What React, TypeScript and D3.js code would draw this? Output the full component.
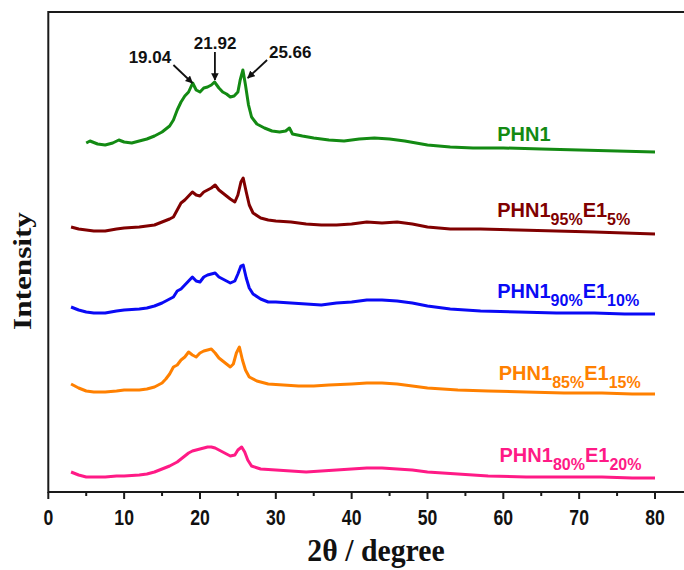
import React from "react";
import * as d3 from "d3";

const W = 684;
const H = 570;

// 2θ positions (degree) and stacked intensities (a.u.)
const greenX = [5.0,5.5,6.5,7.5,8.5,9.3,10,11,12,13,14,15,16,16.5,17,17.5,18,18.5,19.04,19.5,20,20.5,21,21.5,21.92,22.5,23,23.5,24,24.5,25,25.3,25.66,26,26.4,26.8,27.5,28.5,29.5,30.5,31.3,31.8,32.2,33.5,35,37,39,41,43,45,47,50,53,56,60,65,70,75,80];
const greenY = [349,351,348,347,349,352,350,349,351,353,356,360,366,372,382,390,396,400,409,402,400,404,405,407,410,404,400,398,395,396,400,412,422,407,387,375,368,364,361,360,361,364,358,356,354,352,351,353,354,353,351,347,345,344,344,343,342,341,340];

const redX = [3,4,5,6,7.5,9,10,12,13,14,15,16,16.5,17,17.5,18,18.5,19,19.5,20,20.5,21,21.5,22,22.5,23,23.5,24,24.6,25,25.4,25.7,26.1,26.5,27,28,29,30,32,34,36,38,40,42,44,46,48,50,53,57,62,67,72,76,80];
const redY = [265,263,262,261,261,263,264,265,266,267,270,273,275,282,289,292,296,300,297,296,300,302,304,307,302,299,296,293,290,297,310,314,300,287,279,274,272,271,270,268,267,267,268,270,269,270,268,265,263,263,262,261,260,259,258];

const blueX = redX;
const blueY = [185,182,180,179,179,181,182,183,184,186,189,193,195,201,203,207,211,215,211,210,215,217,218,219,215,213,211,209,211,218,226,227,214,204,198,193,190,190,189,188,187,189,190,192,192,191,189,186,183,181,180,179,179,178,178];

const orangeX = [3,4,5,6,7.5,9,10,12,13,14,15,15.5,16,16.5,17,17.5,18,18.5,19,19.5,20,20.5,21,21.5,22,22.5,23,23.5,24,24.4,24.8,25.2,25.6,26,26.5,27.5,29,31,33,35,37,40,42,44,46,48,50,54,58,63,68,73,77,80];
const orangeY = [108,104,101,100,100,101,102,102,103,105,109,113,118,125,127,132,135,140,137,135,139,141,142,143,139,134,131,128,125,128,139,145,132,122,115,111,108,107,106,106,107,108,109,109,108,106,104,102,101,100,99,99,98,98];

const pinkX = [3,4,5,6,7.5,9,10,12,13,14,15,16,17,17.5,18,18.5,19,19.5,20,20.5,21,21.5,22,22.5,23,23.5,24,24.6,25,25.5,25.9,26.3,26.8,28,30,32,34,36,38,40,42,44,46,48,50,54,58,63,68,73,77,80];
const pinkY = [20,17,15,15,15,16,16,17,18,20,23,26,30,33,36,39,41,42,43,44,45,45,44,42,40,38,36,37,42,45,40,32,26,23,22,21,20,21,22,23,24,24,23,22,20,18,16,15,15,15,14,14];

const seriesNames = ["PHN1", "PHN1_95", "PHN1_90", "PHN1_85", "PHN1_80"];
const seriesColors = ["#138a13", "#800000", "#0a0af5", "#ff8000", "#ff1a86"];
const seriesXs = [greenX, redX, blueX, orangeX, pinkX];
const seriesYs = [greenY, redY, blueY, orangeY, pinkY];

// label parts: [main, sub, main, sub]
const labelParts = [
  ["PHN1"],
  ["PHN1", "95%", "E1", "5%"],
  ["PHN1", "90%", "E1", "10%"],
  ["PHN1", "85%", "E1", "15%"],
  ["PHN1", "80%", "E1", "20%"],
];
const labelX = [59.2, 59.2, 59.2, 59.4, 59.5];
const labelY = [351, 275, 194, 112, 30];

const xTicks = [0, 10, 20, 30, 40, 50, 60, 70, 80];
const xMinorTicks = [5, 15, 25, 35, 45, 55, 65, 75];

// peak annotations
const peakLabels = ["19.04", "21.92", "25.66"];
const peakTextX = [13.4, 22.0, 31.9];
const peakTextY = [429, 443, 434];
const arrowFromX = [16.5, 21.97, 28.85];
const arrowFromY = [427, 440, 432];
const arrowToX = [19.0, 21.97, 26.3];
const arrowToY = [409, 412, 414];

export default function App() {
  const left = 48.3;
  const top = 12;
  const bottom = 492;
  const x = d3.scaleLinear().domain([0, 80]).range([left, 655]);
  const y = d3.scaleLinear().domain([0, 480]).range([bottom, top]);
  const line = d3
    .line<[number, number]>()
    .x((d) => x(d[0]))
    .y((d) => y(d[1]));

  const sans = "'Liberation Sans', Arial, sans-serif";
  const serif = "'Liberation Serif', 'Times New Roman', serif";

  return (
    <svg width={W} height={H} style={{ position: "absolute", left: 0, top: 0 }}>
      <defs>
        <marker id="ah" viewBox="0 0 10 10" refX="9" refY="5" markerWidth="4.2" markerHeight="4.2" orient="auto" markerUnits="strokeWidth">
          <path d="M0,0 L10,5 L0,10 z" fill="#111" />
        </marker>
      </defs>
      <rect x={0} y={0} width={W} height={H} fill="#fff" />
      {seriesNames.map((n, i) => (
        <path
          key={n}
          d={line(seriesXs[i].map((v, j) => [v, seriesYs[i][j]] as [number, number])) || ""}
          fill="none"
          stroke={seriesColors[i]}
          strokeWidth={3}
          strokeLinejoin="round"
        />
      ))}
      {/* frame */}
      <path
        d={`M${W + 5},${top} L${left},${top} L${left},${bottom} L${W + 5},${bottom}`}
        fill="none"
        stroke="#1a1a1a"
        strokeWidth={2}
      />
      {xTicks.map((t) => (
        <g key={t}>
          <line x1={x(t)} x2={x(t)} y1={bottom} y2={bottom + 7} stroke="#1a1a1a" strokeWidth={2} />
          <text
            x={x(t)}
            y={bottom + 33}
            textAnchor="middle"
            fontFamily={sans}
            fontWeight="bold"
            fontSize={22}
            fill="#111"
            transform={`translate(${x(t)},0) scale(0.8,1) translate(${-x(t)},0)`}
          >
            {t}
          </text>
        </g>
      ))}
      {xMinorTicks.map((t) => (
        <line key={t} x1={x(t)} x2={x(t)} y1={bottom} y2={bottom + 4} stroke="#1a1a1a" strokeWidth={2} />
      ))}
      <text
        x={376}
        y={561}
        textAnchor="middle"
        fontFamily={serif}
        fontWeight="bold"
        fontSize={31}
        fill="#111"
        transform={`translate(376,0) scale(0.96,1) translate(-376,0)`}
      >
        2θ  / degree
      </text>
      <text
        transform={`translate(31,271) rotate(-90) scale(1.2,1)`}
        textAnchor="middle"
        fontFamily={serif}
        fontWeight="bold"
        fontSize={26}
        fill="#111"
      >
        Intensity
      </text>
      {labelParts.map((parts, i) => (
        <text key={i} x={x(labelX[i])} y={y(labelY[i])} fontFamily={sans} fontWeight="bold" fontSize={20} fill={seriesColors[i]}>
          {parts.map((p, k) =>
            k % 2 === 0 ? (
              <tspan key={k} fontSize={20} dy={k === 0 ? 0 : -8}>
                {p}
              </tspan>
            ) : (
              <tspan key={k} fontSize={16} dy={8}>
                {p}
              </tspan>
            )
          )}
        </text>
      ))}
      {peakLabels.map((p, i) => (
        <g key={p}>
          <text x={x(peakTextX[i])} y={y(peakTextY[i])} textAnchor="middle" fontFamily={sans} fontWeight="bold" fontSize={17} fill="#111">
            {p}
          </text>
          <line
            x1={x(arrowFromX[i])}
            y1={y(arrowFromY[i])}
            x2={x(arrowToX[i])}
            y2={y(arrowToY[i])}
            stroke="#111"
            strokeWidth={1.8}
            markerEnd="url(#ah)"
          />
        </g>
      ))}
    </svg>
  );
}
